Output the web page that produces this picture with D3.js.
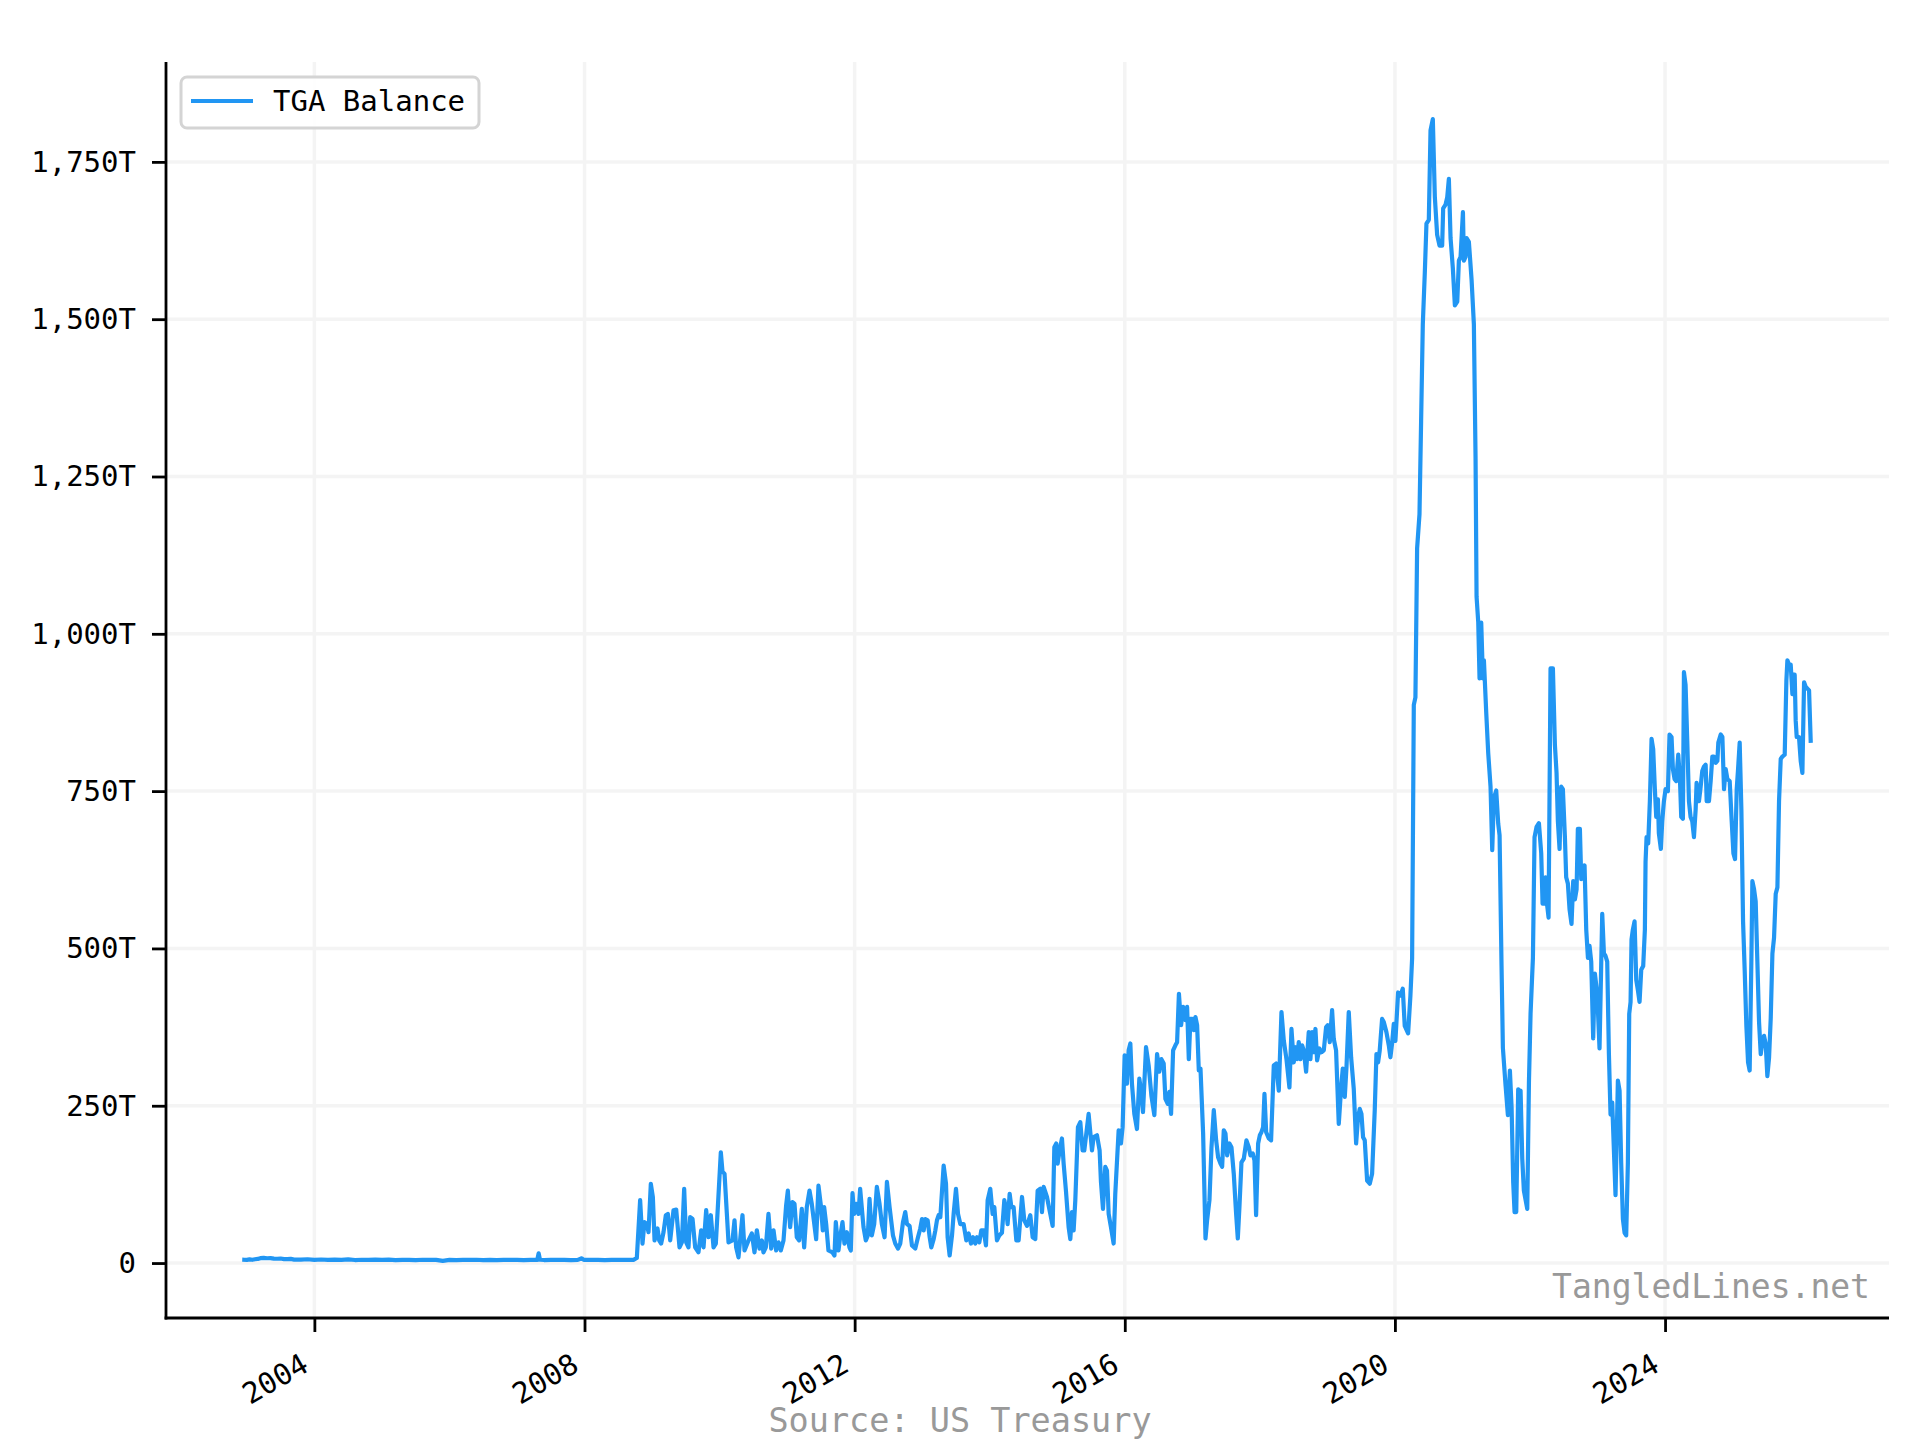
<!DOCTYPE html>
<html>
<head>
<meta charset="utf-8">
<script src="https://cdn.jsdelivr.net/npm/d3@7"></script>
<style>
  html, body { margin: 0; padding: 0; background: #ffffff; }
  svg { display: block; }
  text { font-family: "DejaVu Sans Mono", monospace; }
</style>
</head>
<body>
<svg id="chart" width="1920" height="1440"></svg>
<script>
// ---------- texts ----------
const seriesName = "TGA Balance";
const sourceNote = "Source: US Treasury";
const watermarkText = "TangledLines.net";

// ---------- ticks ----------
const yTickValues = [0, 250, 500, 750, 1000, 1250, 1500, 1750];
const xTickYears = [2004, 2008, 2012, 2016, 2020, 2024];

// ---------- data: [decimal year, balance] ----------
const tgaPre2008 = [
  [2002.962,5.2],[2003.000,5.0],[2003.040,5.8],[2003.080,5.2],[2003.120,6.0],[2003.160,6.5],[2003.200,7.8],
  [2003.250,8.2],[2003.300,7.6],[2003.350,7.9],[2003.400,7.0],[2003.450,6.8],[2003.500,7.2],[2003.550,6.3],
  [2003.600,6.1],[2003.650,6.6],[2003.700,5.5],[2003.800,5.4],[2003.900,6.0],[2004.000,5.1],[2004.100,5.6],
  [2004.200,4.9],[2004.300,5.4],[2004.400,5.0],[2004.500,5.8],[2004.600,4.8],[2004.700,5.2],[2004.800,5.0],
  [2004.900,5.5],[2005.000,4.9],[2005.100,5.3],[2005.200,4.7],[2005.300,5.0],[2005.400,5.1],[2005.500,4.8],
  [2005.600,5.2],[2005.700,4.9],[2005.800,5.0],[2005.900,3.4],[2006.000,5.1],[2006.100,4.8],[2006.200,5.0],
  [2006.300,4.9],[2006.400,5.2],[2006.500,4.8],[2006.600,5.0],[2006.700,4.7],[2006.800,5.1],[2006.900,4.9],
  [2007.000,5.0],[2007.100,4.8],[2007.200,5.0],[2007.300,4.9],[2007.320,15.5],[2007.340,5.2],[2007.400,4.8],
  [2007.500,5.0],[2007.600,4.9],[2007.700,5.1],[2007.800,4.8],[2007.900,5.0],[2007.960,7.5],[2007.990,5.0],
  [2008.100,4.9],[2008.200,5.1],[2008.300,4.8],[2008.400,5.0],[2008.500,4.9],[2008.600,5.0],[2008.700,5.2]
];

const tga2008to2015 = [
  [2008.723,5],[2008.773,8],[2008.822,100],[2008.857,31],[2008.886,65],[2008.921,62],[2008.946,49],[2008.980,126],
  [2009.010,105],[2009.035,36],[2009.079,55],[2009.104,36],[2009.133,31],[2009.168,49],[2009.202,76],[2009.232,78],
  [2009.267,36],[2009.316,84],[2009.356,85],[2009.405,25],[2009.440,33],[2009.474,118],[2009.504,33],[2009.538,25],
  [2009.563,73],[2009.598,70],[2009.637,25],[2009.686,17],[2009.726,52],[2009.761,25],[2009.800,84],[2009.835,41],
  [2009.869,76],[2009.909,25],[2009.943,31],[2009.973,89],[2010.017,176],[2010.042,145],[2010.072,142],[2010.131,33],
  [2010.190,36],[2010.220,68],[2010.244,25],[2010.279,9],[2010.338,76],[2010.368,20],[2010.427,36],[2010.477,47],
  [2010.516,17],[2010.551,52],[2010.590,23],[2010.625,36],[2010.649,17],[2010.684,25],[2010.723,78],[2010.763,23],
  [2010.798,52],[2010.837,20],[2010.872,33],[2010.906,20],[2010.946,36],[2010.985,92],[2011.010,115],[2011.044,57],
  [2011.079,97],[2011.109,94],[2011.143,41],[2011.178,36],[2011.217,86],[2011.252,25],[2011.291,89],[2011.331,115],
  [2011.365,94],[2011.430,38],[2011.464,123],[2011.499,92],[2011.528,52],[2011.548,89],[2011.578,62],[2011.612,20],
  [2011.671,17],[2011.701,12],[2011.721,65],[2011.760,20],[2011.785,41],[2011.820,65],[2011.849,31],[2011.884,49],
  [2011.923,25],[2011.943,20],[2011.968,111],[2011.993,78],[2012.022,94],[2012.057,78],[2012.081,118],[2012.131,57],
  [2012.165,36],[2012.195,44],[2012.220,102],[2012.254,44],[2012.289,62],[2012.328,121],[2012.368,94],[2012.402,62],
  [2012.442,41],[2012.477,129],[2012.516,89],[2012.566,44],[2012.600,31],[2012.640,23],[2012.674,31],[2012.714,65],
  [2012.748,81],[2012.773,62],[2012.812,59],[2012.847,28],[2012.896,23],[2012.936,41],[2012.970,55],[2012.995,70],
  [2013.020,52],[2013.044,70],[2013.079,68],[2013.109,41],[2013.133,25],[2013.168,38],[2013.193,52],[2013.217,68],
  [2013.242,76],[2013.267,73],[2013.316,155],[2013.351,126],[2013.375,41],[2013.405,12],[2013.440,44],[2013.464,78],
  [2013.499,118],[2013.529,78],[2013.563,62],[2013.612,62],[2013.652,36],[2013.686,47],[2013.721,31],[2013.751,41],
  [2013.785,31],[2013.810,41],[2013.845,33],[2013.874,52],[2013.909,52],[2013.943,28],[2013.968,100],[2014.007,118],
  [2014.042,78],[2014.067,89],[2014.106,36],[2014.141,44],[2014.180,48],[2014.215,100],[2014.244,84],[2014.264,62],
  [2014.294,110],[2014.319,89],[2014.353,89],[2014.393,36],[2014.427,36],[2014.477,105],[2014.511,68],[2014.551,59],
  [2014.600,76],[2014.635,41],[2014.674,38],[2014.709,115],[2014.748,118],[2014.773,81],[2014.798,121],[2014.847,105],
  [2014.896,78],[2014.931,59],[2014.956,184],[2014.985,190],[2015.005,158],[2015.035,179],[2015.069,198],[2015.094,158],
  [2015.128,115],[2015.168,57],[2015.193,38],[2015.217,81],[2015.242,52],[2015.267,100],[2015.306,216],[2015.341,224],
  [2015.375,179],[2015.400,179],[2015.430,206],[2015.464,237]
];

const tga2015to2020 = [
  [2015.514,179],[2015.538,200],[2015.588,203],[2015.627,179],[2015.647,129],[2015.677,86],[2015.711,153],[2015.736,147],
  [2015.761,78],[2015.795,57],[2015.835,31],[2015.859,110],[2015.909,211],[2015.943,190],[2015.968,216],[2015.998,330],
  [2016.032,285],[2016.057,338],[2016.082,349],[2016.106,285],[2016.141,237],[2016.180,213],[2016.215,293],[2016.240,274],
  [2016.269,240],[2016.314,343],[2016.353,314],[2016.393,266],[2016.437,235],[2016.477,332],[2016.511,304],[2016.541,324],
  [2016.575,317],[2016.600,261],[2016.635,253],[2016.659,272],[2016.684,237],[2016.714,338],[2016.748,346],[2016.773,351],
  [2016.800,428],[2016.832,378],[2016.862,407],[2016.896,386],[2016.921,407],[2016.946,324],[2016.970,388],[2016.995,388],
  [2017.020,370],[2017.044,391],[2017.069,378],[2017.094,306],[2017.119,309],[2017.158,206],[2017.193,39],[2017.217,68],
  [2017.252,100],[2017.282,184],[2017.316,243],[2017.351,195],[2017.380,168],[2017.415,158],[2017.440,153],[2017.464,211],
  [2017.489,206],[2017.514,171],[2017.548,190],[2017.578,184],[2017.612,142],[2017.647,78],[2017.672,39],[2017.696,89],
  [2017.726,160],[2017.761,166],[2017.800,195],[2017.835,184],[2017.859,171],[2017.894,174],[2017.919,163],[2017.943,76],
  [2017.973,190],[2017.998,203],[2018.022,208],[2018.047,216],[2018.067,269],[2018.092,208],[2018.131,198],[2018.165,195],
  [2018.205,314],[2018.240,317],[2018.279,274],[2018.319,399],[2018.353,354],[2018.393,324],[2018.437,279],[2018.467,372],
  [2018.501,319],[2018.526,343],[2018.551,324],[2018.575,351],[2018.600,324],[2018.625,346],[2018.649,338],[2018.684,304],
  [2018.723,367],[2018.748,324],[2018.773,367],[2018.798,335],[2018.822,372],[2018.847,322],[2018.881,341],[2018.911,335],
  [2018.946,338],[2018.980,375],[2019.005,378],[2019.035,351],[2019.069,402],[2019.094,356],[2019.128,338],[2019.168,221],
  [2019.203,279],[2019.227,309],[2019.257,264],[2019.282,311],[2019.316,399],[2019.351,327],[2019.390,277],[2019.425,190],
  [2019.454,232],[2019.479,245],[2019.504,237],[2019.528,200],[2019.553,195],[2019.588,131],[2019.627,126],[2019.662,142],
  [2019.701,243],[2019.726,332],[2019.751,319],[2019.775,338],[2019.810,388],[2019.835,383],[2019.874,367],[2019.909,346],
  [2019.933,327],[2019.958,349],[2019.983,380]
];

const tga2020to2021 = [
  [2020.007,353],[2020.047,430],[2020.081,425],[2020.116,436],[2020.145,377],[2020.195,365],[2020.229,425],[2020.254,484],
  [2020.279,887],[2020.303,899],[2020.328,1136],[2020.363,1190],[2020.387,1338],[2020.412,1492],[2020.442,1575],[2020.466,1652],
  [2020.501,1658],[2020.526,1800],[2020.560,1818],[2020.590,1694],[2020.624,1634],[2020.659,1617],[2020.698,1617],[2020.713,1676],
  [2020.748,1682],[2020.773,1694],[2020.797,1723],[2020.822,1629],[2020.856,1581],[2020.886,1522],[2020.921,1528],[2020.945,1593],
  [2020.970,1599],[2021.005,1670],[2021.019,1593],[2021.044,1599],[2021.059,1629],[2021.093,1623],[2021.133,1563],[2021.167,1492],
  [2021.192,1279],[2021.207,1059],[2021.232,1018],[2021.251,929],[2021.276,1018],[2021.301,929],[2021.316,958],[2021.350,875],
  [2021.380,810],[2021.414,757],[2021.439,656],[2021.464,739],[2021.498,751],[2021.528,698],[2021.548,680],[2021.577,472],
  [2021.597,342],[2021.637,282],[2021.671,235],[2021.701,306],[2021.726,247],[2021.750,128],[2021.770,81],[2021.795,81],
  [2021.824,276],[2021.844,270]
];

const tga2022to2026 = [
  [2021.859,274],[2021.884,166],[2021.908,115],[2021.958,86],[2021.983,287],[2022.007,396],[2022.042,485],[2022.066,677],
  [2022.096,693],[2022.131,699],[2022.165,651],[2022.185,571],[2022.205,571],[2022.229,613],[2022.254,568],[2022.274,549],
  [2022.303,945],[2022.338,945],[2022.368,823],[2022.392,779],[2022.412,702],[2022.437,658],[2022.461,757],[2022.486,753],
  [2022.516,677],[2022.535,613],[2022.560,603],[2022.585,562],[2022.614,539],[2022.639,607],[2022.664,578],[2022.689,594],
  [2022.708,690],[2022.738,690],[2022.758,610],[2022.787,626],[2022.807,632],[2022.832,530],[2022.857,485],[2022.881,504],
  [2022.906,479],[2022.935,357],[2022.960,460],[2022.995,428],[2023.029,341],[2023.069,555],[2023.094,492],[2023.118,488],
  [2023.143,479],[2023.168,332],[2023.192,236],[2023.217,255],[2023.242,179],[2023.266,108],[2023.301,290],[2023.326,274],
  [2023.350,159],[2023.375,70],[2023.400,48],[2023.424,44],[2023.449,159],[2023.469,396],[2023.489,415],[2023.503,514],
  [2023.523,530],[2023.548,543],[2023.573,450],[2023.597,434],[2023.622,415],[2023.647,466],[2023.676,472],[2023.701,530],
  [2023.711,638],[2023.726,677],[2023.750,667],[2023.775,734],[2023.800,833],[2023.824,817],[2023.849,753],[2023.869,709],
  [2023.894,737],[2023.908,683],[2023.938,658],[2023.958,702],[2023.983,734],[2024.007,753],[2024.042,750],[2024.066,840],
  [2024.096,836],[2024.116,785],[2024.141,769],[2024.165,766],[2024.195,808],[2024.220,769],[2024.239,709],[2024.264,706],
  [2024.279,939],[2024.303,919],[2024.328,830],[2024.353,734],[2024.377,709],[2024.402,702],[2024.427,677],[2024.452,721],
  [2024.466,763],[2024.501,734],[2024.526,757],[2024.550,782],[2024.575,789],[2024.600,792],[2024.615,734],[2024.649,734],
  [2024.674,766],[2024.699,805],[2024.723,805],[2024.748,795],[2024.773,798],[2024.787,827],[2024.822,840],[2024.847,836],
  [2024.871,753],[2024.896,785],[2024.921,769],[2024.955,766],[2024.985,702],[2025.010,651],[2025.034,642],[2025.059,753],
  [2025.079,785],[2025.103,827],[2025.128,721],[2025.153,543],[2025.177,466],[2025.202,377],[2025.227,319],[2025.251,306],
  [2025.276,479],[2025.291,607],[2025.316,594],[2025.340,575],[2025.365,479],[2025.390,383],[2025.415,332],[2025.439,351],
  [2025.464,361],[2025.489,348],[2025.513,297],[2025.538,326],[2025.563,389],[2025.588,492],[2025.612,517],[2025.637,587],
  [2025.662,597],[2025.686,734],[2025.711,801],[2025.736,805],[2025.770,808],[2025.795,926],[2025.810,958],[2025.834,951],
  [2025.859,951],[2025.884,904],[2025.898,935],[2025.918,935],[2025.933,862],[2025.948,836],[2025.982,836],[2026.007,798],
  [2026.032,779],[2026.057,923],[2026.081,916],[2026.106,913],[2026.131,910],[2026.155,830]
];

// ---------- helpers ----------
function yearToDate(dy) {
  const yr = Math.floor(dy);
  const start = new Date(yr, 0, 1).getTime();
  const end = new Date(yr + 1, 0, 1).getTime();
  return new Date(start + (dy - yr) * (end - start));
}

const data = [].concat(tgaPre2008, tga2008to2015, tga2015to2020, tga2020to2021, tga2022to2026)
  .map(([yr, v]) => ({ date: yearToDate(yr), value: v }));

// ---------- layout ----------
const W = 1920, H = 1440;
const plot = { left: 166, right: 1889, top: 62, bottom: 1318 };
const FONT_TICK = 29;
const LINE_COLOR = "#2196F3";

const svg = d3.select("#chart");
svg.append("rect").attr("width", W).attr("height", H).attr("fill", "#ffffff");

// matplotlib-style 5% margins
const xExt = d3.extent(data, d => d.date);
const xSpan = xExt[1] - xExt[0];
const x = d3.scaleTime()
  .domain([new Date(+xExt[0] - 0.05 * xSpan), new Date(+xExt[1] + 0.05 * xSpan)])
  .range([plot.left, plot.right]);

const yExt = d3.extent(data, d => d.value);
const ySpan = yExt[1] - yExt[0];
const y = d3.scaleLinear()
  .domain([yExt[0] - 0.05 * ySpan, yExt[1] + 0.05 * ySpan])
  .range([plot.bottom, plot.top]);

const xTickDates = xTickYears.map(yr => new Date(yr, 0, 1));

// ---------- grid ----------
const grid = svg.append("g").attr("class", "grid");
grid.selectAll("line.h").data(yTickValues).join("line")
  .attr("class", "h")
  .attr("x1", plot.left).attr("x2", plot.right)
  .attr("y1", d => y(d)).attr("y2", d => y(d))
  .attr("stroke", "#f4f4f4").attr("stroke-width", 3.5);
grid.selectAll("line.v").data(xTickDates).join("line")
  .attr("class", "v")
  .attr("x1", d => x(d)).attr("x2", d => x(d))
  .attr("y1", plot.top).attr("y2", plot.bottom)
  .attr("stroke", "#f4f4f4").attr("stroke-width", 3.5);

// ---------- line ----------
const line = d3.line().x(d => x(d.date)).y(d => y(d.value));
svg.append("path")
  .datum(data)
  .attr("d", line)
  .attr("fill", "none")
  .attr("stroke", LINE_COLOR)
  .attr("stroke-width", 4.2)
  .attr("stroke-linejoin", "round")
  .attr("stroke-linecap", "square");

// ---------- axes ----------
const yAxis = d3.axisLeft(y)
  .tickValues(yTickValues)
  .tickSize(14)
  .tickSizeOuter(0)
  .tickPadding(16)
  .tickFormat(v => v === 0 ? "0" : d3.format(",")(v) + "T");

const gy = svg.append("g")
  .attr("transform", `translate(${plot.left},0)`)
  .call(yAxis);
gy.select(".domain").attr("stroke", "#000").attr("stroke-width", 2.8)
  .attr("d", `M0,${plot.top}V${plot.bottom + 1.4}`);
gy.selectAll(".tick line").attr("stroke", "#000").attr("stroke-width", 2.8);
gy.selectAll(".tick text")
  .attr("fill", "#000")
  .style("font-size", FONT_TICK + "px")
  .style("font-family", "'DejaVu Sans Mono', monospace");

const xAxis = d3.axisBottom(x)
  .tickValues(xTickDates)
  .tickSize(14)
  .tickSizeOuter(0)
  .tickFormat(d3.timeFormat("%Y"));

const gx = svg.append("g")
  .attr("transform", `translate(0,${plot.bottom})`)
  .call(xAxis);
gx.select(".domain").attr("stroke", "#000").attr("stroke-width", 2.8)
  .attr("d", `M${plot.left - 1.4},0H${plot.right}`);
gx.selectAll(".tick line").attr("stroke", "#000").attr("stroke-width", 2.8);
gx.selectAll(".tick text")
  .attr("fill", "#000")
  .attr("x", 0).attr("y", 0).attr("dy", null)
  .attr("text-anchor", "end")
  .attr("transform", "translate(-4.5,52) rotate(-30)")
  .style("font-size", FONT_TICK + "px")
  .style("font-family", "'DejaVu Sans Mono', monospace");

// ---------- legend ----------
const legend = svg.append("g").attr("class", "legend");
legend.append("rect")
  .attr("x", 181).attr("y", 77)
  .attr("width", 298).attr("height", 51)
  .attr("rx", 6).attr("ry", 6)
  .attr("fill", "#ffffff").attr("fill-opacity", 0.85)
  .attr("stroke", "#d4d4d4").attr("stroke-width", 3);
legend.append("line")
  .attr("x1", 191).attr("x2", 253)
  .attr("y1", 101).attr("y2", 101)
  .attr("stroke", LINE_COLOR).attr("stroke-width", 4.2);
legend.append("text")
  .attr("x", 273).attr("y", 111)
  .attr("fill", "#000")
  .style("font-size", FONT_TICK + "px")
  .text(seriesName);

// ---------- watermark & source ----------
svg.append("text")
  .attr("x", 1870).attr("y", 1298)
  .attr("text-anchor", "end")
  .attr("fill", "#999999")
  .style("font-size", "33px")
  .text(watermarkText);

svg.append("text")
  .attr("x", W / 2).attr("y", 1432)
  .attr("text-anchor", "middle")
  .attr("fill", "#999999")
  .style("font-size", "33.5px")
  .text(sourceNote);
</script>
</body>
</html>
